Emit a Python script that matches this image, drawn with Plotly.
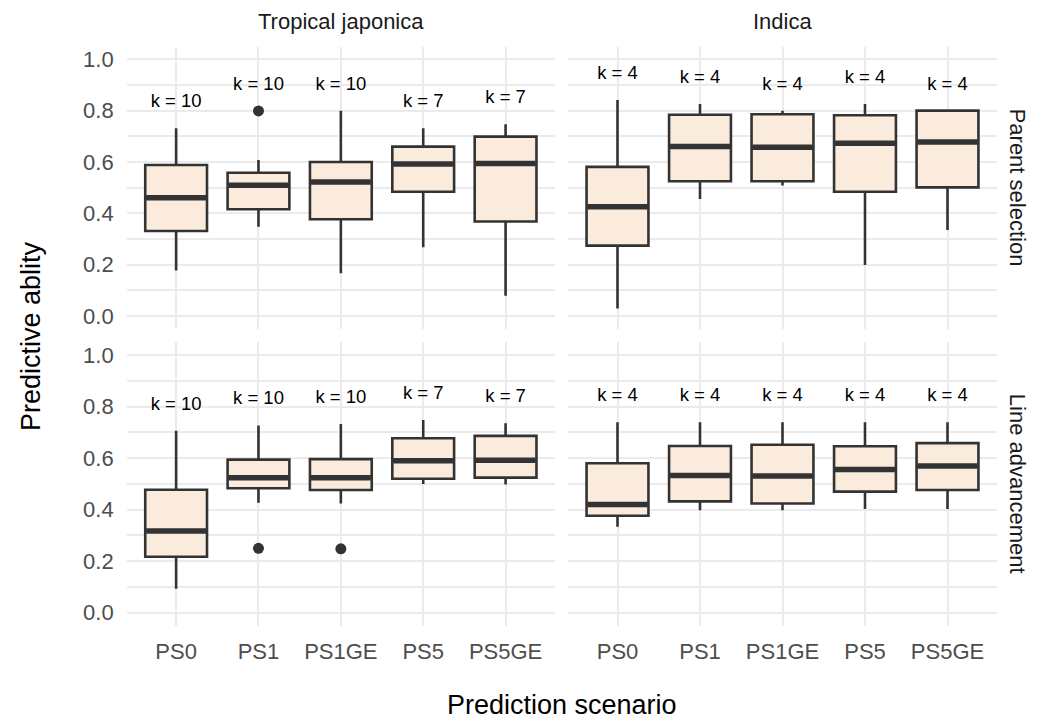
import plotly.graph_objects as go

# ---------------- data ----------------
categories = ["PS0", "PS1", "PS1GE", "PS5", "PS5GE"]
groups = ["Tropical japonica", "Indica"]
scenarios_row = ["Parent selection", "Line advancement"]

k_japonica = [10, 10, 10, 7, 7]
k_indica = [4, 4, 4, 4, 4]

# Tropical japonica - Parent selection
tj_ps_lower = [0.177, 0.348, 0.166, 0.268, 0.079]
tj_ps_q1 = [0.331, 0.416, 0.377, 0.484, 0.368]
tj_ps_median = [0.461, 0.509, 0.522, 0.592, 0.594]
tj_ps_q3 = [0.588, 0.558, 0.600, 0.660, 0.699]
tj_ps_upper = [0.731, 0.608, 0.800, 0.731, 0.747]
tj_ps_out_cat = ["PS1"]
tj_ps_out_val = [0.799]

# Indica - Parent selection
in_ps_lower = [0.029, 0.456, 0.508, 0.199, 0.335]
in_ps_q1 = [0.274, 0.525, 0.525, 0.484, 0.501]
in_ps_median = [0.426, 0.660, 0.657, 0.673, 0.678]
in_ps_q3 = [0.581, 0.784, 0.786, 0.782, 0.800]
in_ps_upper = [0.842, 0.826, 0.800, 0.826, 0.800]
in_ps_out_cat = []
in_ps_out_val = []

# Tropical japonica - Line advancement
tj_la_lower = [0.093, 0.427, 0.424, 0.499, 0.497]
tj_la_q1 = [0.217, 0.483, 0.476, 0.520, 0.524]
tj_la_median = [0.317, 0.524, 0.524, 0.590, 0.592]
tj_la_q3 = [0.477, 0.594, 0.596, 0.677, 0.686]
tj_la_upper = [0.706, 0.726, 0.732, 0.748, 0.735]
tj_la_out_cat = ["PS1", "PS1GE"]
tj_la_out_val = [0.250, 0.248]

# Indica - Line advancement
in_la_lower = [0.334, 0.398, 0.398, 0.402, 0.402]
in_la_q1 = [0.376, 0.432, 0.424, 0.470, 0.476]
in_la_median = [0.420, 0.532, 0.530, 0.556, 0.569]
in_la_q3 = [0.580, 0.647, 0.652, 0.646, 0.658]
in_la_upper = [0.739, 0.739, 0.739, 0.739, 0.739]
in_la_out_cat = []
in_la_out_val = []

y_ticks = [0.0, 0.2, 0.4, 0.6, 0.8, 1.0]
y_minor = [0.1, 0.3, 0.5, 0.7, 0.9]

# ---------------- style ----------------
FONT = "Liberation Sans, Arial, Helvetica, sans-serif"
BOX_FILL = "#FAEBDD"
EDGE = "#333333"
GRID = "#EBEBEB"
W, H = 1037, 724
BOX_W = 0.75

panels = [
    # (xaxis, yaxis, lower, q1, med, q3, upper, out_cat, out_val, k)
    ("x", "y", tj_ps_lower, tj_ps_q1, tj_ps_median, tj_ps_q3, tj_ps_upper, tj_ps_out_cat, tj_ps_out_val, k_japonica),
    ("x2", "y2", in_ps_lower, in_ps_q1, in_ps_median, in_ps_q3, in_ps_upper, in_ps_out_cat, in_ps_out_val, k_indica),
    ("x3", "y3", tj_la_lower, tj_la_q1, tj_la_median, tj_la_q3, tj_la_upper, tj_la_out_cat, tj_la_out_val, k_japonica),
    ("x4", "y4", in_la_lower, in_la_q1, in_la_median, in_la_q3, in_la_upper, in_la_out_cat, in_la_out_val, k_indica),
]

pos = list(range(len(categories)))
fig = go.Figure()

for xa, ya, lo, q1, med, q3, up, ocat, oval, k in panels:
    fig.add_trace(go.Box(
        x=pos, q1=q1, median=med, q3=q3, lowerfence=lo, upperfence=up,
        width=BOX_W, whiskerwidth=0, fillcolor=BOX_FILL,
        line=dict(color=EDGE, width=2.6), boxpoints=False,
        xaxis=xa, yaxis=ya, showlegend=False, hoverinfo="skip"))
    # thick median lines
    mx, my = [], []
    for p, m in zip(pos, med):
        mx += [p - BOX_W / 2 + 0.012, p + BOX_W / 2 - 0.012, None]
        my += [m, m, None]
    fig.add_trace(go.Scatter(x=mx, y=my, mode="lines",
                             line=dict(color=EDGE, width=5.5),
                             xaxis=xa, yaxis=ya, showlegend=False, hoverinfo="skip"))
    # outliers
    if ocat:
        fig.add_trace(go.Scatter(x=[categories.index(c) for c in ocat], y=oval, mode="markers",
                                 marker=dict(color=EDGE, size=11),
                                 xaxis=xa, yaxis=ya, showlegend=False, hoverinfo="skip"))
    # k labels: placed above the highest point of each box
    label_y = []
    for i, c in enumerate(categories):
        top = max([up[i]] + [v for cc, v in zip(ocat, oval) if cc == c])
        label_y.append(top + 0.1)
    fig.add_trace(go.Scatter(x=pos, y=label_y, mode="text",
                             text=[f"k = {v}" for v in k],
                             textposition="middle center",
                             textfont=dict(family=FONT, size=18.5, color="#000000"),
                             xaxis=xa, yaxis=ya, showlegend=False, hoverinfo="skip"))

# ---------------- axes ----------------
xdom_left = [126.7 / W, 555 / W]
xdom_right = [568 / W, 997 / W]
ydom_top = [1 - 328.8 / H, 1 - 46.5 / H]
ydom_bot = [1 - 625.6 / H, 1 - 342.1 / H]


def xaxis(domain, anchor, show_labels):
    return dict(domain=domain, anchor=anchor, range=[-0.6, 4.6],
                tickmode="array", tickvals=pos, ticktext=categories,
                showticklabels=show_labels, ticks="", showline=False, zeroline=False,
                showgrid=True, gridcolor=GRID, gridwidth=2,
                tickfont=dict(family=FONT, size=22, color="#4D4D4D"),
                ticklabelstandoff=10)


def yaxis(domain, anchor, show_labels):
    return dict(domain=domain, anchor=anchor, range=[-0.05, 1.05],
                tickmode="array", tickvals=y_ticks, ticktext=[f"{v:.1f}" for v in y_ticks],
                showticklabels=show_labels, ticks="", showline=False, zeroline=False,
                showgrid=True, gridcolor=GRID, gridwidth=2,
                minor=dict(tickmode="array", tickvals=y_minor, showgrid=True,
                           gridcolor=GRID, gridwidth=1.5, ticks=""),
                tickfont=dict(family=FONT, size=22, color="#4D4D4D"),
                ticklabelstandoff=12)


annotations = []
# strip labels (top)
for dom, g in zip([xdom_left, xdom_right], groups):
    annotations.append(dict(text=g, x=(dom[0] + dom[1]) / 2, y=1 - 22 / H,
                            xref="paper", yref="paper", showarrow=False,
                            xanchor="center", yanchor="middle",
                            font=dict(family=FONT, size=22, color="#1A1A1A")))
# strip labels (right)
for dom, s in zip([ydom_top, ydom_bot], scenarios_row):
    annotations.append(dict(text=s, x=1017 / W, y=(dom[0] + dom[1]) / 2,
                            xref="paper", yref="paper", showarrow=False, textangle=90,
                            xanchor="center", yanchor="middle",
                            font=dict(family=FONT, size=22, color="#1A1A1A")))
# axis titles
annotations.append(dict(text="Prediction scenario", x=(xdom_left[0] + xdom_right[1]) / 2,
                        y=1 - 705 / H, xref="paper", yref="paper", showarrow=False,
                        xanchor="center", yanchor="middle",
                        font=dict(family=FONT, size=27, color="#000000")))
annotations.append(dict(text="Predictive ablity", x=31 / W, y=(ydom_top[1] + ydom_bot[0]) / 2,
                        xref="paper", yref="paper", showarrow=False, textangle=-90,
                        xanchor="center", yanchor="middle",
                        font=dict(family=FONT, size=27, color="#000000")))

fig.update_layout(
    width=W, height=H,
    margin=dict(l=0, r=0, t=0, b=0),
    paper_bgcolor="white", plot_bgcolor="white",
    boxmode="overlay",
    showlegend=False,
    font=dict(family=FONT),
    xaxis=xaxis(xdom_left, "y", False),
    xaxis2=xaxis(xdom_right, "y2", False),
    xaxis3=xaxis(xdom_left, "y3", True),
    xaxis4=xaxis(xdom_right, "y4", True),
    yaxis=yaxis(ydom_top, "x", True),
    yaxis2=yaxis(ydom_top, "x2", False),
    yaxis3=yaxis(ydom_bot, "x3", True),
    yaxis4=yaxis(ydom_bot, "x4", False),
    annotations=annotations,
)

fig.write_html("out.html")
